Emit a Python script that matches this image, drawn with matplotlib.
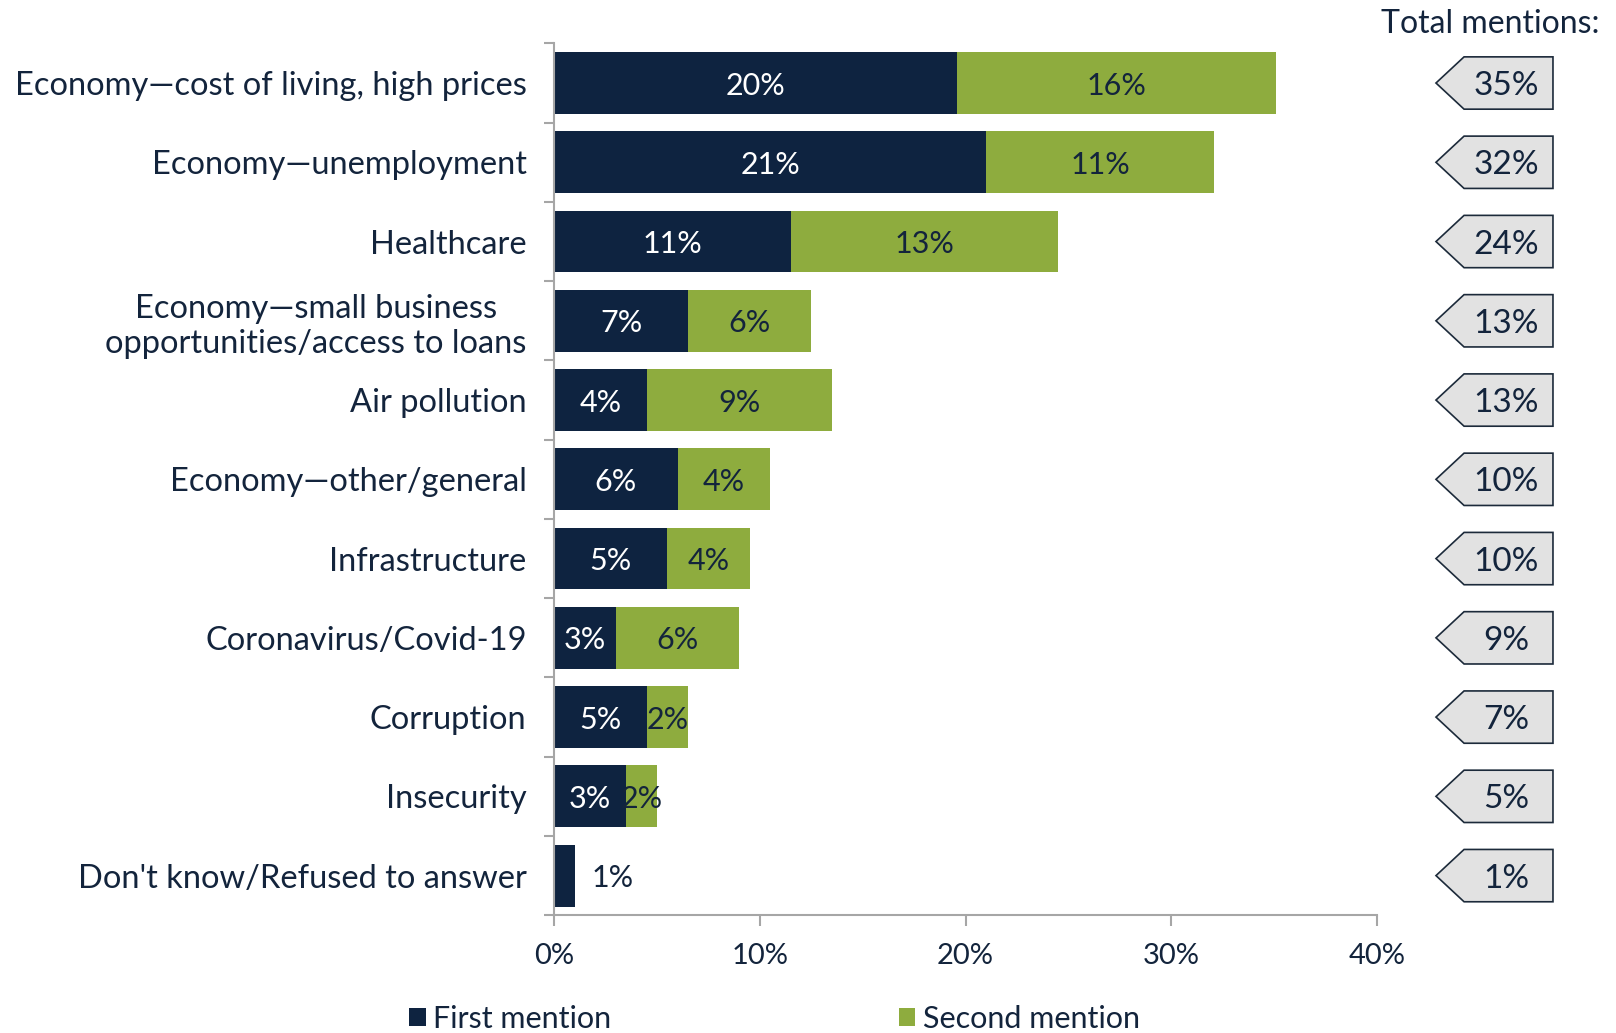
import matplotlib
matplotlib.use("Agg")
import matplotlib.pyplot as plt
from matplotlib.patches import Polygon, Patch
import numpy as np

categories = [
    "Economy\u2014cost of living, high prices",
    "Economy\u2014unemployment",
    "Healthcare",
    "Economy\u2014small business\nopportunities/access to loans",
    "Air pollution",
    "Economy\u2014other/general",
    "Infrastructure",
    "Coronavirus/Covid-19",
    "Corruption",
    "Insecurity",
    "Don't know/Refused to answer",
]
first_vals = [19.6, 21.0, 11.5, 6.5, 4.5, 6.0, 5.5, 3.0, 4.5, 3.5, 1.0]
second_vals = [15.5, 11.1, 13.0, 6.0, 9.0, 4.5, 4.0, 6.0, 2.0, 1.5, 0.0]
first_labels = ["20%", "21%", "11%", "7%", "4%", "6%", "5%", "3%", "5%", "3%", "1%"]
second_labels = ["16%", "11%", "13%", "6%", "9%", "4%", "4%", "6%", "2%", "2%", ""]
total_labels = ["35%", "32%", "24%", "13%", "13%", "10%", "10%", "9%", "7%", "5%", "1%"]
xticks = [0, 10, 20, 30, 40]
xtick_labels = ["0%", "10%", "20%", "30%", "40%"]
series_names = ["First mention", "Second mention"]

NAVY = "#0e2340"
GREEN = "#8eac3e"
TXT = "#13243c"
GRAY = "#a6a6a6"

plt.rcParams["font.family"] = ["Lato", "DejaVu Sans"]

fig = plt.figure(figsize=(16.16, 10.33), dpi=100)
ax = fig.add_axes([0.343, 0.114, 0.509, 0.844])

n = len(categories)
y = np.arange(n)
h = 0.78
ax.barh(y, first_vals, height=h, color=NAVY, edgecolor="none")
ax.barh(y, second_vals, left=first_vals, height=h, color=GREEN, edgecolor="none")

for i in range(n):
    f = first_vals[i]
    s = second_vals[i]
    if s > 0:
        ax.text(f / 2, y[i], first_labels[i], ha="center", va="center_baseline",
                color="white", fontsize=22)
        ax.text(f + s / 2, y[i], second_labels[i], ha="center", va="center_baseline",
                color=TXT, fontsize=22)
    else:
        ax.text(f + 0.8, y[i], first_labels[i], ha="left", va="center_baseline",
                color=TXT, fontsize=22)

ax.set_ylim(n - 0.5, -0.5)
ax.set_xlim(0, 40)
ax.set_yticks(y)
ax.set_yticklabels(categories, fontsize=23.5, color=TXT, multialignment="center",
                   linespacing=1.2)
ax.tick_params(axis="y", length=0, pad=20)
ax.set_yticks(np.arange(-0.5, n, 1.0), minor=True)
ax.tick_params(axis="y", which="minor", length=7, color=GRAY, width=1.5)
ax.set_xticks(xticks)
ax.set_xticklabels(xtick_labels, fontsize=21, color=TXT)
ax.tick_params(axis="x", length=8, color=GRAY, width=1.5, pad=12)

for side in ["top", "right"]:
    ax.spines[side].set_visible(False)
for side in ["left", "bottom"]:
    ax.spines[side].set_color(GRAY)
    ax.spines[side].set_linewidth(1.5)

# Total mention tags
ax2 = fig.add_axes([0.8886, 0.114, 0.0724, 0.844])
ax2.set_xlim(0, 1)
ax2.set_ylim(n - 0.5, -0.5)
ax2.axis("off")
th = 0.33
for i in range(n):
    pts = [(0.0, y[i]), (0.24, y[i] - th), (1.0, y[i] - th),
           (1.0, y[i] + th), (0.24, y[i] + th)]
    ax2.add_patch(Polygon(pts, closed=True, facecolor="#e2e2e2",
                          edgecolor="#1c2a3a", linewidth=1.2, clip_on=False))
    ax2.text(0.6, y[i], total_labels[i], ha="center", va="center_baseline",
             fontsize=24, color=TXT)

fig.text(0.99, 0.977, "Total mentions:", ha="right", va="center",
         fontsize=23, color=TXT)

handles = [Patch(facecolor=NAVY, edgecolor="none"), Patch(facecolor=GREEN, edgecolor="none")]
fig.legend(handles, series_names, loc="center left", bbox_to_anchor=(0.236, 0.014),
           ncol=2, frameon=False, fontsize=22, handlelength=0.55, handleheight=0.55,
           handletextpad=0.25, columnspacing=9.4, labelcolor=TXT)

fig.savefig("out.png", dpi=100)
